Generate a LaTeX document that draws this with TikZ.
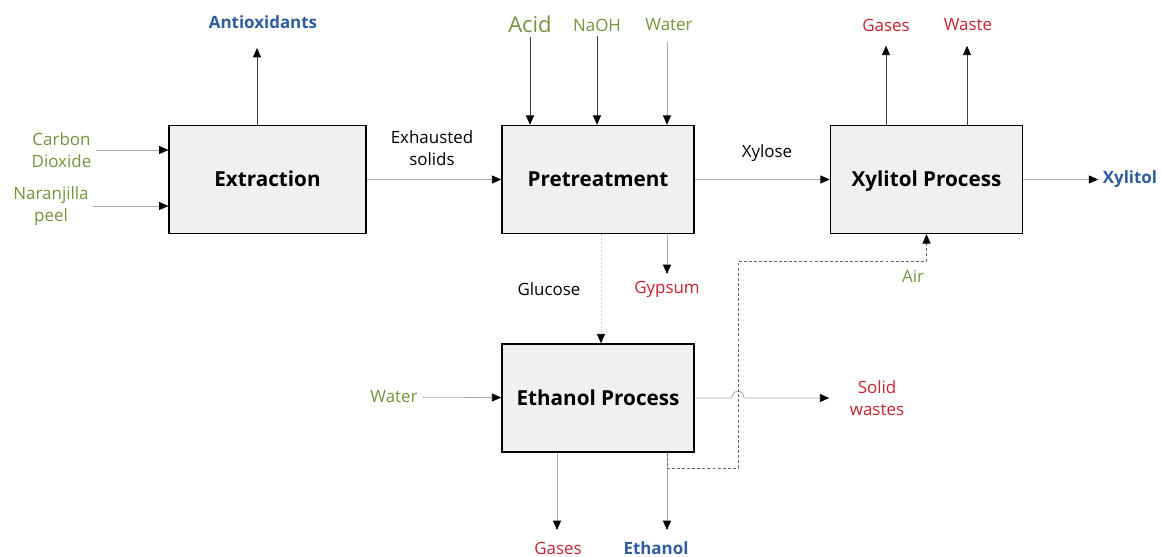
\documentclass[tikz,border=0pt]{standalone}
\usepackage{fontspec}
\setmainfont{Open Sans}
\usetikzlibrary{arrows.meta}

\definecolor{feedgreen}{HTML}{76923C}
\definecolor{wastered}{HTML}{C9212F}
\definecolor{prodblue}{HTML}{2F5C9C}
\definecolor{boxgray}{HTML}{F0F0F0}

\begin{document}
\begin{tikzpicture}[x=0.75pt, y=-0.75pt,
	% process units
	unit/.style={
		rectangle,
		draw=black,
		fill=boxgray,
		line width=1.1pt,
		minimum width=144pt,
		minimum height=81pt,
		text height=12.5pt,
		text depth=1.5pt,
		font=\fontsize{15.5}{18}\selectfont\bfseries
	},
	% stream labels
	feed/.style={text=feedgreen, align=center, font=\fontsize{12.7}{16.5}\selectfont},
	waste/.style={text=wastered, align=center, font=\fontsize{12.7}{16.5}\selectfont},
	product/.style={text=prodblue, align=center, font=\fontsize{12.7}{16.5}\selectfont\bfseries},
	stream/.style={text=black, align=center, font=\fontsize{12.7}{16.5}\selectfont},
	% stream lines
	flow/.style={
		draw=gray!65,
		line width=0.6pt,
		-{Triangle[length=7pt, width=6pt, color=black]}
	},
	darkflow/.style={flow, draw=black!75},
	airline/.style={flow, draw=black!60, dash pattern=on 2.2pt off 1.6pt},
	glucline/.style={flow, draw=gray!35, dash pattern=on 1.5pt off 1.5pt}
	]
	\useasboundingbox (0,0) rectangle (1161,557);

	% process units
	\node[unit, minimum width=147.5pt] (ext) at (267.5,179.5) {Extraction};
	\node[unit] (pre) at (598,179.5) {Pretreatment};
	\node[unit] (xyl) at (926.5,179.5) {Xylitol Process};
	\node[unit] (eth) at (598,398) {Ethanol Process};

	% extraction streams
	\node[feed] (co2) at (61.5,150) {Carbon\\Dioxide};
	\node[feed] (peel) at (51,206) {Naranjilla\\peel};
	\node[product] (antiox) at (263,22) {Antioxidants};
	\coordinate (antiox-end) at (257,48);
	\draw[flow] (co2.east) -- (co2.east -| ext.west);
	\draw[flow] (peel.east) -- (peel.east -| ext.west);
	\draw[darkflow] (antiox-end |- ext.north) -- (antiox-end);

	% pretreatment streams
	\node[stream] (solids) at (432,148) {Exhausted\\solids};
	\node[feed, font=\fontsize{16.5}{19}\selectfont] (acid) at (530,24) {Acid};
	\node[feed] (naoh) at (597,25) {NaOH};
	\node[feed] (water) at (669,25) {Water};
	\draw[flow] (ext) -- (pre);
	\draw[darkflow] (acid.south) -- (acid.south |- pre.north);
	\draw[darkflow] (naoh.south) -- (naoh.south |- pre.north);
	\coordinate (water-in) at (667,42);
	\draw[flow] (water-in) -- (water-in |- pre.north);

	\node[waste] (gypsum) at (667,289) {Gypsum};
	\node[stream] (glucose) at (549,289) {Glucose};
	\coordinate (gyp-end) at (667,274);
	\coordinate (gluc-x) at (601,300);
	\draw[flow] (gyp-end |- pre.south) -- (gyp-end);
	\draw[glucline] (gluc-x |- pre.south) -- (gluc-x |- eth.north);

	% xylitol streams
	\node[stream] (xylose) at (767,153) {Xylose};
	\node[waste] (xylgas) at (886,25) {Gases};
	\node[waste] (xylwaste) at (968,25) {Waste};
	\node[product] (xylitol) at (1130,179.5) {Xylitol};
	\node[feed] (air) at (913,276) {Air};
	\draw[flow] (pre) -- (xyl);
	\draw[darkflow] (xyl.north -| xylgas) -- ++(0,-79);
	\draw[darkflow] (xyl.north -| 967,0) -- ++(0,-79);
	\draw[flow] (xyl) -- (xylitol);

	% ethanol streams
	\node[feed] (water2) at (394,397) {Water};
	\node[waste, align=center] (solidw) at (877,398) {Solid\\wastes};
	\node[waste] (ethgas) at (558,548) {Gases};
	\node[product] (ethanol) at (656,548) {Ethanol};
	\coordinate (gas-end) at (557,530);
	\coordinate (etoh-end) at (667,530);
	\coordinate (bend-low) at (738,468);
	\coordinate (bend-high) at (738,261);
	\draw[flow] (water2) -- (eth);
	\draw[flow, shorten >=12pt] (eth.east) -- (732,398)
		.. controls (732,389) and (744,389) .. (744,398) -- (solidw.west);
	\draw[flow] (gas-end |- eth.south) -- (gas-end);
	\draw[flow] (etoh-end |- eth.south) -- (etoh-end);

	% air to the xylitol unit
	\draw[airline] (etoh-end |- eth.south) |- (bend-low) -- (bend-high) -| (xyl.south);
\end{tikzpicture}
\end{document}
